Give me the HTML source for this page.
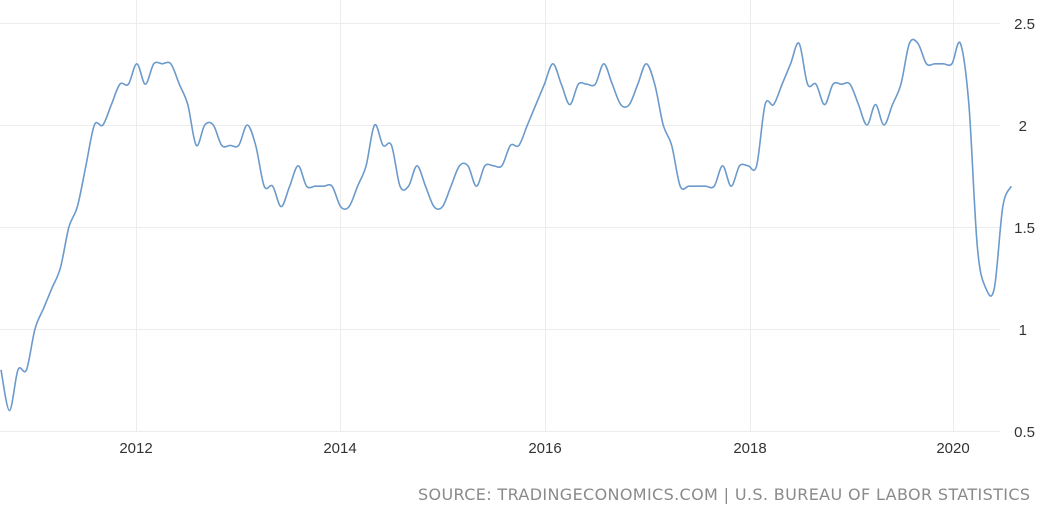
<!DOCTYPE html>
<html><head><meta charset="utf-8"><style>
html,body{margin:0;padding:0;background:#fff;}
svg{display:block;font-family:"Liberation Sans",sans-serif;}
</style></head><body>
<svg id="c" width="1050" height="513" xmlns="http://www.w3.org/2000/svg">
<g stroke="#ececec" stroke-width="1">
<line x1="0" y1="23.5" x2="1000" y2="23.5"/>
<line x1="0" y1="125.5" x2="1000" y2="125.5"/>
<line x1="0" y1="227.5" x2="1000" y2="227.5"/>
<line x1="0" y1="329.5" x2="1000" y2="329.5"/>
<line x1="0" y1="431.5" x2="1000" y2="431.5"/>
<line x1="136.5" y1="0" x2="136.5" y2="431"/>
<line x1="340.5" y1="0" x2="340.5" y2="431"/>
<line x1="545.5" y1="0" x2="545.5" y2="431"/>
<line x1="750.5" y1="0" x2="750.5" y2="431"/>
<line x1="953.5" y1="0" x2="953.5" y2="431"/>
</g>
<g font-size="15" fill="#333" text-anchor="end">
<text x="1035" y="29">2.5</text>
<text x="1027" y="131">2</text>
<text x="1035" y="233">1.5</text>
<text x="1027" y="335">1</text>
<text x="1035" y="437">0.5</text>
</g>
<g font-size="15" fill="#333" text-anchor="middle">
<text x="136" y="453">2012</text>
<text x="340" y="453">2014</text>
<text x="545" y="453">2016</text>
<text x="750" y="453">2018</text>
<text x="953" y="453">2020</text>
</g>
<text x="418" y="500" font-size="16" fill="#8a8a8a" textLength="612" lengthAdjust="spacing" style="font-family:'DejaVu Sans',sans-serif">SOURCE: TRADINGECONOMICS.COM | U.S. BUREAU OF LABOR STATISTICS</text>
<path id="p" fill="none" stroke="#6b9acb" stroke-width="1.6"/>
</svg>
<script>
var v=[0.8,0.6,0.8,0.8,
1.0,1.1,1.2,1.3,1.5,1.6,1.8,2.0,2.0,2.1,2.2,2.2,
2.3,2.2,2.3,2.3,2.3,2.2,2.1,1.9,2.0,2.0,1.9,1.9,
1.9,2.0,1.9,1.7,1.7,1.6,1.7,1.8,1.7,1.7,1.7,1.7,
1.6,1.6,1.7,1.8,2.0,1.9,1.9,1.7,1.7,1.8,1.7,1.6,
1.6,1.7,1.8,1.8,1.7,1.8,1.8,1.8,1.9,1.9,2.0,2.1,
2.2,2.3,2.2,2.1,2.2,2.2,2.2,2.3,2.2,2.1,2.1,2.2,
2.3,2.2,2.0,1.9,1.7,1.7,1.7,1.7,1.7,1.8,1.7,1.8,
1.8,1.8,2.1,2.1,2.2,2.3,2.4,2.2,2.2,2.1,2.2,2.2,
2.2,2.1,2.0,2.1,2.0,2.1,2.2,2.4,2.4,2.3,2.3,2.3,
2.3,2.4,2.1,1.4,1.2,1.2,1.6,1.7];
var pts=v.map(function(y,i){return [i*8.49+1, 431-(y-0.5)*204];});
var d="M"+pts[0][0]+","+pts[0][1];
for(var i=0;i<pts.length-1;i++){
var p0=pts[Math.max(0,i-1)],p1=pts[i],p2=pts[i+1],p3=pts[Math.min(pts.length-1,i+2)];
var c1x=p1[0]+(p2[0]-p0[0])/6,c1y=p1[1]+(p2[1]-p0[1])/6;
var c2x=p2[0]-(p3[0]-p1[0])/6,c2y=p2[1]-(p3[1]-p1[1])/6;
d+=" C"+c1x.toFixed(1)+","+c1y.toFixed(1)+" "+c2x.toFixed(1)+","+c2y.toFixed(1)+" "+p2[0].toFixed(1)+","+p2[1].toFixed(1);
}
document.getElementById("p").setAttribute("d",d);
</script>
</body></html>
